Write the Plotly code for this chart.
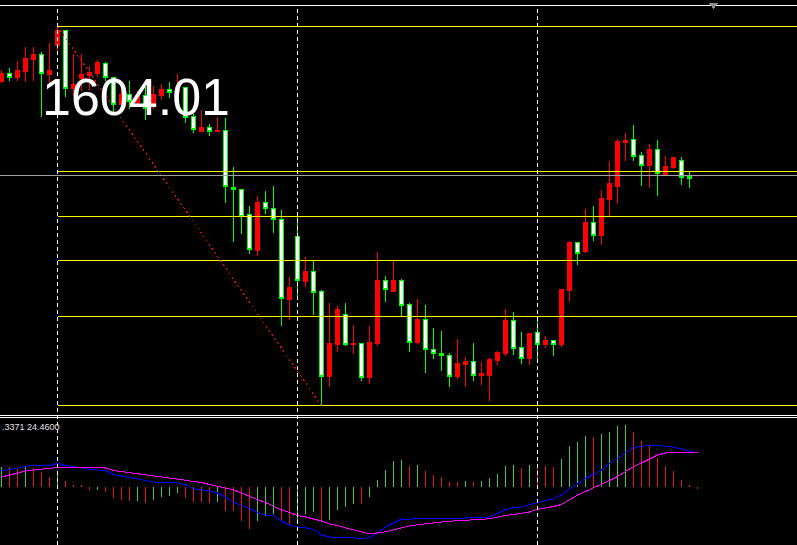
import plotly.graph_objects as go

# ---------------- price data (OHLC per bar) ----------------
opens = [1613.90, 1614.67, 1614.33, 1614.90, 1616.10, 1616.60, 1614.60, 1617.50, 1619.00, 1613.25,
         1614.20, 1614.50, 1614.73, 1615.67, 1614.33, 1611.60, 1612.57, 1611.80, 1612.50, 1611.70,
         1612.50, 1613.10, 1612.83, 1613.27, 1610.40, 1608.93, 1609.27, 1608.93, 1609.00, 1603.33,
         1603.07, 1600.57, 1597.00, 1601.77, 1601.17, 1600.07, 1592.13, 1598.37, 1593.90, 1594.87,
         1592.87, 1584.43, 1587.63, 1590.57, 1587.63, 1587.67, 1584.33, 1587.67, 1594.00, 1592.93,
         1594.00, 1591.60, 1587.80, 1590.10, 1587.07, 1586.67, 1586.47, 1584.43, 1585.60, 1585.87,
         1584.50, 1584.50, 1586.03, 1586.67, 1590.00, 1587.30, 1586.23, 1588.77, 1587.63, 1588.00,
         1587.60, 1593.00, 1597.80, 1596.90, 1599.80, 1598.53, 1602.13, 1603.43, 1607.83, 1608.07,
         1606.50, 1605.53, 1607.07, 1604.63, 1605.30, 1605.97, 1604.43, 1604.48]

highs = [1615.07, 1615.27, 1616.00, 1617.40, 1617.33, 1616.83, 1617.73, 1619.40, 1619.07, 1616.67,
         1616.70, 1615.50, 1616.07, 1615.90, 1614.40, 1613.33, 1614.00, 1613.00, 1613.33, 1613.50,
         1613.67, 1613.90, 1614.67, 1613.33, 1610.67, 1611.07, 1609.67, 1610.40, 1610.30, 1605.33,
         1603.10, 1601.50, 1602.50, 1603.00, 1603.50, 1601.10, 1594.40, 1600.33, 1596.40, 1595.93,
         1593.10, 1591.80, 1591.50, 1591.73, 1589.60, 1587.80, 1589.43, 1596.90, 1594.50, 1596.00,
         1594.20, 1591.80, 1592.20, 1591.60, 1589.30, 1589.00, 1586.80, 1588.20, 1586.40, 1587.80,
         1585.90, 1586.30, 1587.00, 1591.20, 1590.90, 1588.90, 1588.70, 1590.20, 1588.50, 1588.10,
         1593.20, 1598.00, 1597.90, 1601.20, 1601.50, 1603.10, 1606.00, 1608.20, 1608.80, 1609.60,
         1606.90, 1607.70, 1608.10, 1606.50, 1606.30, 1606.40, 1604.83, 1604.48]

lows = [1613.73, 1613.93, 1614.00, 1613.90, 1614.00, 1610.40, 1613.50, 1617.00, 1612.33, 1612.50,
        1613.00, 1613.07, 1614.33, 1614.00, 1610.80, 1611.20, 1611.20, 1611.40, 1610.07, 1611.20,
        1612.07, 1612.27, 1612.50, 1609.73, 1608.73, 1608.83, 1608.43, 1608.90, 1601.73, 1597.83,
        1598.67, 1596.67, 1596.43, 1600.67, 1598.73, 1589.43, 1590.10, 1592.33, 1593.33, 1590.60,
        1581.48, 1583.40, 1586.90, 1587.43, 1586.63, 1583.93, 1583.67, 1587.50, 1591.83, 1592.85,
        1590.50, 1586.83, 1587.70, 1584.73, 1586.13, 1585.00, 1583.33, 1584.15, 1583.33, 1584.00,
        1583.60, 1582.00, 1585.60, 1586.50, 1586.60, 1585.70, 1585.60, 1586.10, 1587.23, 1586.50,
        1587.40, 1591.83, 1595.60, 1596.73, 1597.93, 1597.53, 1600.23, 1601.63, 1606.00, 1605.93,
        1603.43, 1603.23, 1602.43, 1604.43, 1605.13, 1603.53, 1603.23, 1604.47]

closes = [1614.73, 1614.33, 1615.00, 1616.23, 1616.63, 1614.67, 1615.00, 1619.00, 1613.23, 1613.65,
          1614.60, 1614.83, 1615.80, 1614.27, 1611.60, 1612.57, 1611.90, 1612.40, 1611.17, 1612.60,
          1613.07, 1612.83, 1613.27, 1610.33, 1609.07, 1609.33, 1608.87, 1609.00, 1603.40, 1603.07,
          1600.40, 1597.07, 1601.80, 1601.17, 1600.07, 1592.17, 1593.30, 1593.97, 1594.90, 1592.83,
          1584.43, 1587.70, 1591.10, 1587.63, 1587.70, 1584.33, 1587.80, 1594.00, 1593.07, 1594.00,
          1591.55, 1587.83, 1590.10, 1587.07, 1586.67, 1586.47, 1584.43, 1585.67, 1585.87, 1584.53,
          1584.70, 1586.10, 1586.80, 1590.00, 1587.23, 1586.23, 1588.70, 1587.63, 1588.00, 1587.63,
          1593.10, 1597.80, 1596.73, 1599.80, 1598.53, 1602.20, 1603.70, 1607.90, 1608.00, 1606.43,
          1605.53, 1607.10, 1604.67, 1605.40, 1606.30, 1604.33, 1604.17, 1604.47]

# ---------------- oscillator sub-window ----------------
macd_hist = [20.0, 19.3, 17.7, 19.3, 19.0, 14.3, 10.0, 14.3, 5.3, 1.0,
             0.7, -3.3, -3.0, -5.7, -11.3, -13.3, -14.7, -14.3, -16.7, -13.3,
             -10.0, -9.0, -6.7, -11.3, -15.0, -15.7, -16.7, -15.7, -24.0, -24.3,
             -34.0, -42.3, -34.7, -29.0, -27.3, -34.7, -38.0, -34.7, -27.3, -25.7,
             -34.7, -33.3, -23.3, -20.7, -17.3, -17.7, -10.0, 6.7, 17.0, 26.0,
             27.0, 21.0, 21.3, 16.0, 12.0, 10.0, 5.0, 4.7, 6.0, 5.0,
             6.0, 9.0, 13.0, 21.0, 21.3, 19.0, 22.0, 21.3, 21.0, 20.0,
             28.0, 41.0, 45.0, 51.0, 50.0, 53.0, 55.0, 61.0, 61.3, 55.0,
             46.0, 40.3, 29.0, 21.0, 16.0, 7.0, 1.0, -2.7]

macd_main = [15.5, 17.0, 19.0, 20.0, 21.5, 21.0, 21.0, 23.0, 21.0, 20.0,
             18.5, 17.0, 16.5, 16.0, 12.0, 10.5, 8.5, 7.5, 6.0, 4.5,
             4.3, 4.0, 3.7, 1.5, -2.3, -3.5, -4.5, -6.5, -10.5, -15.7,
             -18.5, -22.0, -26.0, -28.5, -29.0, -34.5, -38.5, -40.7, -41.3, -43.0,
             -48.5, -50.5, -50.7, -50.7, -51.3, -52.5, -51.0, -46.7, -40.5, -36.5,
             -32.5, -33.0, -31.7, -32.0, -32.3, -32.3, -32.3, -31.7, -31.3, -31.3,
             -31.3, -30.3, -27.0, -23.0, -21.3, -20.5, -18.0, -16.3, -14.3, -12.3,
             -8.5, -2.5, 2.5, 8.0, 12.0, 16.5, 23.0, 28.5, 34.0, 39.0,
             40.0, 41.5, 41.2, 40.5, 39.3, 37.5, 35.5, 33.3]

macd_signal = [9.5, 11.5, 14.0, 15.5, 16.5, 17.5, 18.5, 19.0, 19.0, 19.0,
               19.0, 19.0, 19.0, 18.5, 16.0, 15.0, 14.0, 13.0, 12.0, 11.0,
               10.0, 9.0, 7.7, 6.3, 5.0, 4.0, 2.0, 0.0, -1.7, -3.3,
               -6.5, -10.0, -13.0, -16.0, -20.0, -23.5, -26.0, -29.0, -30.5, -32.3,
               -34.5, -37.5, -39.0, -41.3, -43.5, -45.5, -47.3, -46.5, -45.3, -43.3,
               -41.0, -39.3, -38.3, -37.3, -36.3, -35.5, -34.7, -34.3, -34.0, -33.3,
               -32.8, -32.3, -30.5, -29.0, -28.0, -27.0, -25.5, -22.7, -21.5, -20.0,
               -18.0, -13.0, -8.5, -5.0, -1.5, 2.0, 6.0, 10.0, 15.0, 20.0,
               23.5, 27.5, 31.5, 33.5, 34.3, 34.3, 34.3, 34.3]

# ---------------- chart objects ----------------
fib_from_bar = 7          # swing high bar
fib_to_bar = 40           # swing low bar
fib_levels = [0.0, 38.2, 50.0, 61.8, 76.4, 100.0]
separator_bars = [7, 37, 67]
price_label = "1604.01"
osc_label = ".3371 24.4600"

bar_index = list(range(len(opens)))
W, H = 797, 545
X_RANGE = [-0.1875, 99.4375]

RED = "#ff0000"
LIME = "#00ff00"
HIST_GREEN = "#46c846"
HIST_RED = "#e61414"

fig = go.Figure()

fig.add_trace(go.Candlestick(
    x=bar_index, open=opens, high=highs, low=lows, close=closes,
    increasing=dict(line=dict(color=RED, width=1), fillcolor=RED),
    decreasing=dict(line=dict(color=LIME, width=1), fillcolor="#ffffff"),
    whiskerwidth=0, xaxis="x", yaxis="y", hoverinfo="skip", showlegend=False))

hist_colors = []
prev = None
for v in macd_hist:
    hist_colors.append(HIST_GREEN if prev is None or v >= prev else HIST_RED)
    prev = v

fig.add_trace(go.Bar(x=bar_index, y=macd_hist, width=0.125,
                     marker=dict(color=hist_colors, line=dict(width=0)),
                     xaxis="x2", yaxis="y2", hoverinfo="skip", showlegend=False))
fig.add_trace(go.Scatter(x=bar_index, y=macd_main, mode="lines",
                         line=dict(color="#0000ff", width=1),
                         xaxis="x2", yaxis="y2", hoverinfo="skip", showlegend=False))
fig.add_trace(go.Scatter(x=bar_index, y=macd_signal, mode="lines",
                         line=dict(color="#ff00ff", width=1),
                         xaxis="x2", yaxis="y2", hoverinfo="skip", showlegend=False))

shapes = []
fib_high = highs[fib_from_bar]
fib_low = lows[fib_to_bar]
for lvl in fib_levels:
    p = fib_high - (fib_high - fib_low) * lvl / 100.0
    shapes.append(dict(type="line", xref="x", yref="y", x0=fib_from_bar, x1=X_RANGE[1],
                       y0=p, y1=p, line=dict(color="#ffff00", width=1)))
shapes.append(dict(type="line", xref="x", yref="y", x0=fib_from_bar, x1=fib_to_bar,
                   y0=fib_high, y1=fib_low, line=dict(color=RED, width=1, dash="2px,3px")))
# bid line
shapes.append(dict(type="line", xref="x", yref="y", x0=X_RANGE[0], x1=X_RANGE[1],
                   y0=closes[-1], y1=closes[-1], line=dict(color="#a0a0a0", width=1)))
# period separators
for b in separator_bars:
    shapes.append(dict(type="line", xref="x", yref="paper", x0=b, x1=b, y0=0, y1=1 - 7 / H,
                       line=dict(color="#ffffff", width=1, dash="4px,3px")))
# window borders
for yy in (415.5, 417.5, 5.5):
    shapes.append(dict(type="line", xref="paper", yref="paper", x0=0, x1=1,
                       y0=1 - yy / H, y1=1 - yy / H, line=dict(color="#ffffff", width=1)))
# chart shift marker
shapes.append(dict(type="path", xref="paper", yref="paper",
                   path=f"M {709/W} {1-3/H} L {718/W} {1-3/H} L {713.5/W} {1-9/H} Z",
                   fillcolor="#8c8c8c", line=dict(width=0)))

annotations = [
    dict(text=price_label, xref="paper", yref="paper", x=40 / W, y=1 - 97 / H,
         xanchor="left", yanchor="middle", showarrow=False,
         font=dict(family="Liberation Sans, Arial, sans-serif", size=52, color="#ffffff")),
    dict(text=osc_label, xref="paper", yref="paper", x=0, y=1 - 426.5 / H,
         xanchor="left", yanchor="middle", showarrow=False,
         font=dict(family="Liberation Sans, Arial, sans-serif", size=9, color="#e0e0e0")),
]

fig.update_layout(
    width=W, height=H,
    margin=dict(l=0, r=0, t=0, b=0, pad=0),
    paper_bgcolor="#000000", plot_bgcolor="#000000",
    showlegend=False, hovermode=False,
    boxgap=0.45, bargap=0,
    xaxis=dict(domain=[0, 1], range=X_RANGE, visible=False, anchor="y",
               rangeslider=dict(visible=False), fixedrange=True),
    xaxis2=dict(domain=[0, 1], range=X_RANGE, visible=False, anchor="y2", fixedrange=True),
    yaxis=dict(domain=[1 - 412 / H, 1], range=[1580.85, 1622.05], visible=False, fixedrange=True),
    yaxis2=dict(domain=[0, 127 / H], range=[-58.5, 68.5], visible=False, fixedrange=True),
    shapes=shapes, annotations=annotations,
)

page_fix = (
    "document.body.style.margin='0';"
    "document.body.style.overflow='hidden';"
    "document.body.style.background='#000';"
    "var st=document.createElement('style');"
    "st.textContent='.js-plotly-plot svg path{shape-rendering:crispEdges;}';"
    "document.head.appendChild(st);"
)

fig.write_html("out.html", post_script=page_fix, config={"displayModeBar": False})
